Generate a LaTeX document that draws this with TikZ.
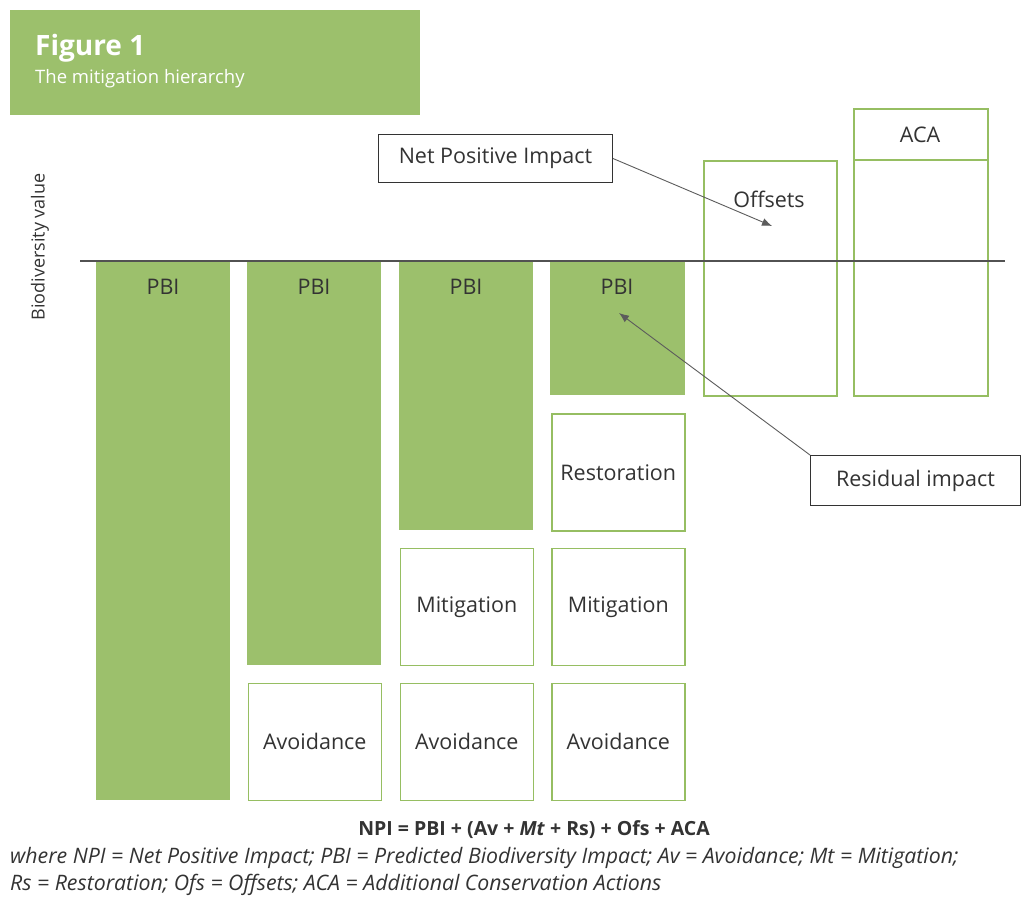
\documentclass[tikz,border=0pt]{standalone}
\usepackage{fontspec}
\setmainfont{Open Sans}
\usetikzlibrary{arrows.meta}
\definecolor{gfill}{HTML}{9CC06C}
\definecolor{gline}{HTML}{96BE62}
\definecolor{txt}{HTML}{333333}
\tikzset{
  gbar/.style={fill=gfill, draw=none, anchor=north west, inner sep=0pt},
  obox/.style={draw=gline, line width=1.6pt, fill=white, anchor=north west, inner sep=0pt},
  cbox/.style={draw=txt, line width=1pt, fill=white, inner sep=0pt, anchor=north west},
  lbl/.style={text=txt, font=\fontsize{21.5}{24}\selectfont, inner sep=0pt},
  callout/.style={draw=txt!80, line width=0.9pt, -{Latex[length=10pt,width=8pt]}}
}
\begin{document}
\begin{tikzpicture}[x=1pt,y=-1pt]
\useasboundingbox (0,0) rectangle (1036,907);
% title
\node[gbar, minimum width=410pt, minimum height=105pt] (title) at (10,10) {};
\node[anchor=west, text=white, font=\fontsize{28}{30}\selectfont\bfseries, inner sep=0pt] (fig) at (35,48) {Figure 1};
\node[anchor=west, text=white, font=\fontsize{18.5}{20}\selectfont, inner sep=0pt] (sub) at (35,79) {The mitigation hierarchy};
% axis label
\node[lbl, font=\fontsize{18}{20}\selectfont, rotate=90] (axis) at (40,247) {Biodiversity value};
% column 1
\node[gbar, minimum width=134pt, minimum height=539pt] (p1) at (96,261) {};
\node[lbl] (p1t) at (163,287) {PBI};
% column 2
\node[gbar, minimum width=134pt, minimum height=404pt] (p2) at (247,261) {};
\node[lbl] (p2t) at (314,287) {PBI};
\node[obox, minimum width=133pt, minimum height=117pt] (a2) at (247.5,682.5) {};
\node[lbl] (a2t) at (a2.center) {Avoidance};
% column 3
\node[gbar, minimum width=134pt, minimum height=269pt] (p3) at (399,261) {};
\node[lbl] (p3t) at (466,287) {PBI};
\node[obox, minimum width=133pt, minimum height=117pt] (m3) at (399.5,547.5) {};
\node[lbl] (m3t) at (m3.center) {Mitigation};
\node[obox, minimum width=133pt, minimum height=117pt] (a3) at (399.5,682.5) {};
\node[lbl] (a3t) at (a3.center) {Avoidance};
% column 4
\node[gbar, minimum width=135pt, minimum height=134pt] (p4) at (550,261) {};
\node[lbl] (p4t) at (617,287) {PBI};
\node[obox, minimum width=133pt, minimum height=117pt] (r4) at (551,413) {};
\node[lbl] (r4t) at (r4.center) {Restoration};
\node[obox, minimum width=133pt, minimum height=117pt] (m4) at (551,547.5) {};
\node[lbl] (m4t) at (m4.center) {Mitigation};
\node[obox, minimum width=133pt, minimum height=117pt] (a4) at (551,682.5) {};
\node[lbl] (a4t) at (a4.center) {Avoidance};
% offsets
\node[obox, minimum width=133pt, minimum height=235pt] (ofs) at (703,160) {};
\node[lbl] (ofst) at (769,199) {Offsets};
% ACA
\node[obox, minimum width=134pt, minimum height=287pt] (aca) at (853,108) {};
\node[lbl] (acat) at (920,135) {ACA};
\draw[gline, line width=1.4pt] (aca.west |- 0,160) coordinate (acal) -- (aca.east |- 0,160) coordinate (acar);
% baseline
\coordinate (b0) at (80,261);
\coordinate (b1) at (1005,261);
\draw[txt!85, line width=1.1pt] (b0) -- (b1);
% callouts
\node[cbox, minimum width=234pt, minimum height=48pt] (npi) at (378,134) {};
\node[lbl] (npit) at (npi.center) {Net Positive Impact};
\coordinate (npiend) at (772,226);
\draw[callout] (npi.east) -- (npiend);
\node[cbox, minimum width=210pt, minimum height=50pt] (res) at (810,455) {};
\node[lbl] (rest) at (res.center) {Residual impact};
\coordinate (resend) at (619,313);
\draw[callout] (res.north west) -- (resend);
% formula
\node[text=txt, font=\fontsize{19.5}{22}\selectfont\bfseries, inner sep=0pt] (formula) at (534,830) {NPI = PBI + (Av + \textit{Mt} + Rs) + Ofs + ACA};
\node[anchor=west, text=txt, font=\fontsize{21.3}{23}\selectfont\itshape, inner sep=0pt] (leg1) at (10,858) {where NPI = Net Positive Impact; PBI = Predicted Biodiversity Impact; Av = Avoidance; Mt = Mitigation;};
\node[anchor=west, text=txt, font=\fontsize{21.3}{23}\selectfont\itshape, inner sep=0pt] (leg2) at (10,885) {Rs = Restoration; Ofs = Offsets; ACA = Additional Conservation Actions};
\end{tikzpicture}
\end{document}
